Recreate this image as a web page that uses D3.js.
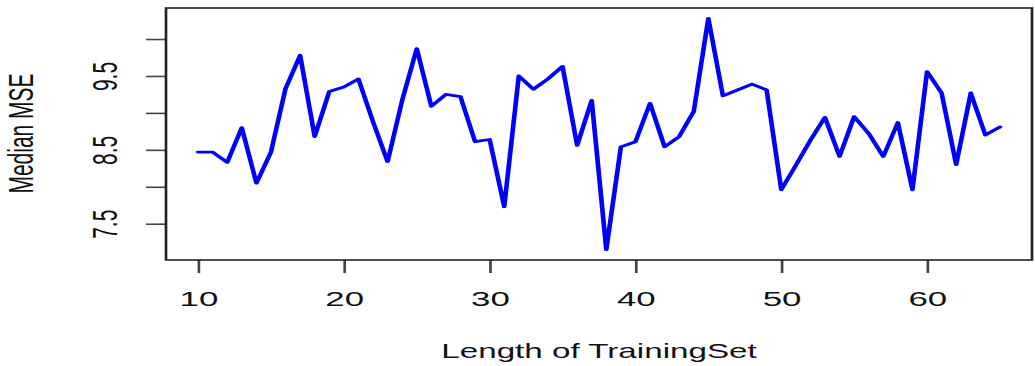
<!DOCTYPE html>
<html>
<head>
<meta charset="utf-8">
<script src="https://cdn.jsdelivr.net/npm/d3@7"></script>
<style>
  body { margin: 0; background: #fff; }
  text { font-family: "Liberation Sans", Arial, sans-serif; fill: #111; }
</style>
</head>
<body>
<svg width="1035" height="366"></svg>
<script>
// data
var trainLength = [10, 11, 12, 13, 14, 15, 16, 17, 18, 19, 20, 21, 22, 23, 24, 25, 26, 27, 28, 29,
  30, 31, 32, 33, 34, 35, 36, 37, 38, 39, 40, 41, 42, 43, 44, 45, 46, 47, 48, 49,
  50, 51, 52, 53, 54, 55, 56, 57, 58, 59, 60, 61, 62, 63, 64, 65];
var medianMSE = [8.47, 8.47, 8.33, 8.80, 8.05, 8.47, 9.33, 9.78, 8.68, 9.29, 9.35, 9.46, 8.88, 8.34, 9.17, 9.87, 9.09, 9.25, 9.22, 8.61,
  8.64, 7.73, 9.50, 9.32, 9.46, 9.63, 8.56, 9.17, 7.15, 8.54, 8.61, 9.13, 8.54, 8.68, 9.02, 10.28, 9.23, 9.31, 9.39, 9.31,
  7.96, 8.29, 8.63, 8.94, 8.41, 8.95, 8.72, 8.41, 8.87, 7.96, 9.56, 9.27, 8.30, 9.27, 8.70, 8.81];
var xTicks = [10, 20, 30, 40, 50, 60];
var yTicks = [7.5, 8, 8.5, 9, 9.5, 10];
var yLabelled = [7.5, 8.5, 9.5];

// the picture is stretched sideways, so draw in a squeezed frame and scale it out
var SX = 1.66;
var box = {left: 166, right: 1032, top: 8, bottom: 260};

var data = trainLength.map(function(d, i) { return {len: d, mse: medianMSE[i]}; });

// R style: 4% padding on both ends
var x = d3.scaleLinear().domain([7.8, 67.2]).range([box.left / SX, box.right / SX]);
var y = d3.scaleLinear().domain([7.009, 10.42]).range([box.bottom, box.top]);

var svg = d3.select("svg")
  .append("g")
  .attr("transform", "scale(" + SX + ",1)");

// x axis
var gx = svg.append("g")
  .attr("transform", "translate(0," + box.bottom + ")")
  .call(d3.axisBottom(x).tickValues(xTicks).tickSize(13));
gx.select(".domain").remove();
gx.selectAll(".tick line").attr("stroke", "#444").attr("stroke-width", 1.6);
gx.selectAll(".tick text")
  .attr("font-size", 21)
  .attr("dy", null)
  .attr("y", 46)
  .attr("fill", "#111");

// y axis, only some labels shown like R does
var gy = svg.append("g")
  .attr("transform", "translate(" + box.left / SX + ",0)")
  .call(d3.axisLeft(y).tickValues(yTicks).tickSize(20 / SX)
    .tickFormat(function(d) { return yLabelled.indexOf(d) >= 0 ? d3.format(".1f")(d) : ""; }));
gy.select(".domain").remove();
gy.selectAll(".tick line").attr("stroke", "#444").attr("stroke-width", 1.6);
gy.selectAll(".tick text")
  .attr("x", null)
  .attr("dy", null)
  .attr("text-anchor", "middle")
  .attr("font-size", 21)
  .attr("fill", "#111")
  .attr("transform", "translate(" + (-(box.left - 117) / SX) + ",0) rotate(-90)");

// plot box
svg.append("rect")
  .attr("x", box.left / SX)
  .attr("y", box.top)
  .attr("width", (box.right - box.left) / SX)
  .attr("height", box.bottom - box.top)
  .attr("fill", "none")
  .attr("stroke", "#222")
  .attr("stroke-width", 1.6);

// the line
var line = d3.line()
  .x(function(d) { return x(d.len); })
  .y(function(d) { return y(d.mse); });

svg.append("path")
  .datum(data)
  .attr("d", line)
  .attr("fill", "none")
  .attr("stroke", "#0000ff")
  .attr("stroke-width", 2.8)
  .attr("stroke-linejoin", "round")
  .attr("stroke-linecap", "round");

// axis titles
svg.append("text")
  .attr("x", (box.left + box.right) / 2 / SX)
  .attr("y", 358)
  .attr("text-anchor", "middle")
  .attr("font-size", 20)
  .text("Length of TrainingSet");

svg.append("text")
  .attr("transform", "translate(" + 33 / SX + ",133.5) rotate(-90)")
  .attr("text-anchor", "middle")
  .attr("font-size", 21)
  .text("Median MSE");
</script>
</body>
</html>
